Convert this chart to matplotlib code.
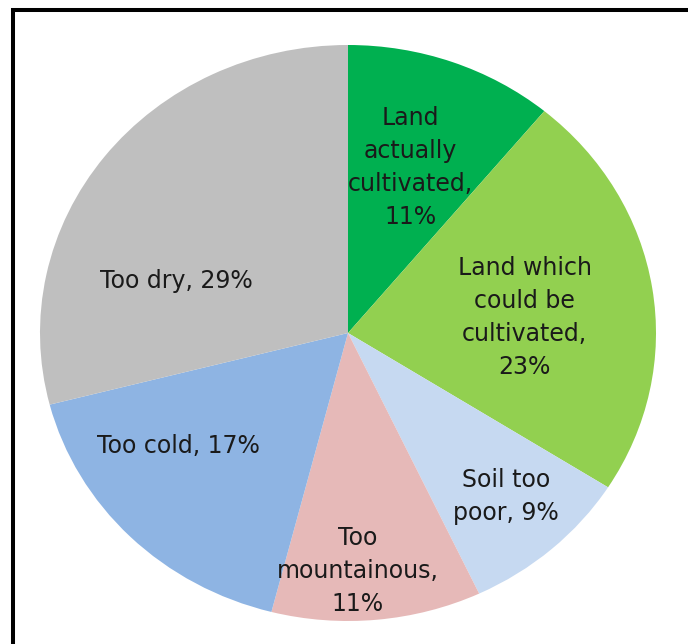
import numpy as np
import matplotlib.pyplot as plt
from matplotlib.patches import Rectangle

# share of land area by suitability for farming
labels = ["Land\nactually\ncultivated,\n11%",
          "Land which\ncould be\ncultivated,\n23%",
          "Soil too\npoor, 9%",
          "Too\nmountainous,\n11%",
          "Too cold, 17%",
          "Too dry, 29%"]
shares = [11, 23, 9, 11, 17, 29]
colors = ["#00B050", "#92D050", "#C6D9F1", "#E6B9B8", "#8EB4E3", "#BFBFBF"]

# where each label sits, in axes fraction
label_pos = [(0.601, 0.787), (0.787, 0.527), (0.756, 0.216),
             (0.516, 0.087), (0.224, 0.304), (0.221, 0.591)]

W, H = 688, 644
fig = plt.figure(figsize=(W / 100, H / 100), dpi=100)
ax = fig.add_axes([40 / W, 23 / H, 616 / W, 576 / H])

wedges, _ = ax.pie(shares, colors=colors, startangle=90, counterclock=False,
                   radius=1.0, wedgeprops=dict(linewidth=0))
ax.set_aspect("auto")
ax.set_xlim(-1, 1)
ax.set_ylim(-1, 1)
ax.axis("off")

for text, (x, y) in zip(labels, label_pos):
    ax.text(x, y, text, transform=ax.transAxes, ha="center", va="center",
            fontsize=17, family="DejaVu Sans", color="#1a1a1a",
            linespacing=1.48)

# chart area outline, running off the right and bottom edges
fig.patches.append(Rectangle((12.5 / W, -0.05), 1.1, 1 - 9.5 / H + 0.05,
                             transform=fig.transFigure, fill=False,
                             edgecolor="black", linewidth=2.9))

fig.savefig("out.png", dpi=100)
